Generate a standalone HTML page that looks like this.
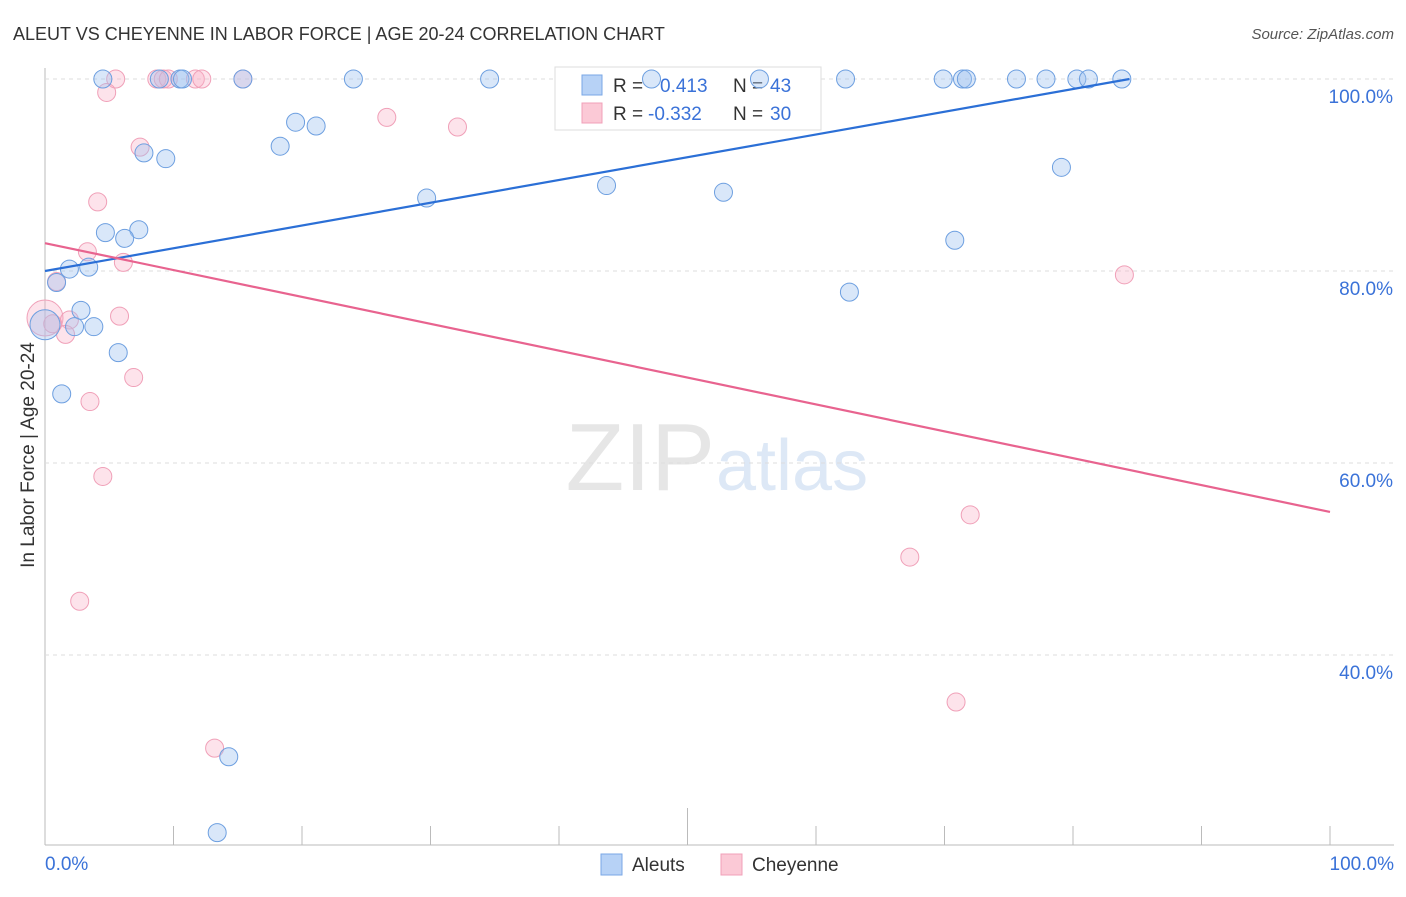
<!DOCTYPE html>
<html><head><meta charset="utf-8"><style>
body{margin:0;background:#fff;font-family:"Liberation Sans",sans-serif}
svg text{font-family:"Liberation Sans",sans-serif}
</style></head><body>
<svg id="c" width="1406" height="892">
<text x="13" y="40" font-size="18" fill="#333">ALEUT VS CHEYENNE IN LABOR FORCE | AGE 20-24 CORRELATION CHART</text>
<text x="1394" y="39" font-size="15" fill="#555" font-style="italic" text-anchor="end">Source: ZipAtlas.com</text>
<text x="715" y="490" font-size="96" fill="#e6e6e6" text-anchor="end" font-family="Liberation Serif">ZIP</text>
<text x="716" y="490" font-size="72" fill="#dde8f6">atlas</text>
<text transform="translate(34,455) rotate(-90)" font-size="19" fill="#333" text-anchor="middle">In Labor Force | Age 20-24</text>
<g id="grid"></g>
<g>
<rect x="555" y="67" width="266" height="63" fill="#fff" stroke="#ddd"/>
<rect x="582" y="75" width="20" height="20" fill="#b7d2f6" stroke="#7aa7e6"/>
<text x="613" y="92" font-size="19" fill="#333">R = </text><text x="660" y="92" font-size="19" fill="#3a72d8">0.413</text>
<text x="733" y="92" font-size="19" fill="#333">N = </text><text x="770" y="92" font-size="19" fill="#3a72d8">43</text>
<rect x="582" y="103" width="20" height="20" fill="#fbc9d6" stroke="#f0a0b8"/>
<text x="613" y="120" font-size="19" fill="#333">R = </text><text x="648" y="120" font-size="19" fill="#3a72d8">-0.332</text>
<text x="733" y="120" font-size="19" fill="#333">N = </text><text x="770" y="120" font-size="19" fill="#3a72d8">30</text>
</g>
<g id="pts"></g><g id="lines"></g>
<g>
<rect x="601" y="854" width="21" height="21" fill="#b7d2f6" stroke="#7aa7e6"/>
<text x="632" y="871" font-size="19" fill="#333">Aleuts</text>
<rect x="721" y="854" width="21" height="21" fill="#fbc9d6" stroke="#f0a0b8"/>
<text x="752" y="871" font-size="19" fill="#333">Cheyenne</text>
</g>
</svg>
<script>
const aleutX=[4.5,8.9,10.5,10.7,15.4,24.0,34.6,47.2,55.6,62.3,69.9,71.4,71.7,75.6,77.9,80.3,81.2,83.8,19.5,21.1,18.3,7.7,9.4,29.7,43.7,52.8,79.1,70.8,7.3,4.7,6.2,1.9,3.4,0.9,2.8,0,2.3,3.8,5.7,1.3,62.6,14.3,13.4];
const aleutY=[100,100,100,100,100,100,100,100,100,100,100,100,100,100,100,100,100,100,95.5,95.1,93.0,92.3,91.7,87.6,88.9,88.2,90.8,83.2,84.3,84.0,83.4,80.2,80.4,78.8,75.9,74.4,74.2,74.2,71.5,67.2,77.8,29.4,21.5];
const cheyX=[5.5,8.7,9.2,9.6,11.7,12.2,15.4,4.8,26.6,32.1,7.4,4.1,3.3,6.1,0.9,0,1.9,1.6,5.8,6.9,3.5,4.5,2.7,13.2,67.3,72.0,70.9,84.0,0.6];
const cheyY=[100,100,100,100,100,100,100,98.6,96.0,95.0,92.9,87.2,82.0,80.9,78.9,75.1,74.9,73.4,75.3,68.9,66.4,58.6,45.6,30.3,50.2,54.6,35.1,79.6,74.5];
const aleutBig=[35];const cheyBig=[15];
const aleutTrend=[[0,80.0],[84.4,100]];
const cheyTrend=[[0,82.9],[100,54.9]];
const yTicks=[100,80,60,40];
const NS='http://www.w3.org/2000/svg';
const sx=v=>45+v*12.85, sy=v=>79+(100-v)*9.6;
function mk(tag,attrs,parent){const e=document.createElementNS(NS,tag);for(const k in attrs)e.setAttribute(k,attrs[k]);parent.appendChild(e);return e;}
const grid=document.getElementById('grid');
const ax=mk('line',{x1:45,y1:68,x2:45,y2:845,stroke:'#bbb'},grid);


const xax=mk('line',{x1:45,y1:845,x2:1394,y2:845,stroke:'#bbb'},grid);


yTicks.forEach(t=>{const l=mk('line',{x1:45,y1:sy(t),x2:1394,y2:sy(t),stroke:'#ddd','stroke-dasharray':'4,4'},grid);


const tx=mk('text',{x:1393,y:sy(t)+24,'font-size':19,fill:'#3a72d8','text-anchor':'end'},grid);tx.textContent=t.toFixed(1)+'%';

});
for(let i=0;i<=10;i++){const l=mk('line',{x1:sx(i*10),y1:i==5?808:826,x2:sx(i*10),y2:845,stroke:'#bbb'},grid);

}
[[0,'0.0%','start',45],[100,'100.0%','end',1394]].forEach(a=>{const t=mk('text',{x:a[3],y:870,'font-size':19,fill:'#3a72d8','text-anchor':a[2]},grid);t.textContent=a[1];

});
const pts=document.getElementById('pts');
cheyX.forEach((x,i)=>{const c=mk('circle',{cx:sx(x),cy:sy(cheyY[i]),r:cheyBig.includes(i)?18:9,fill:'rgba(248,175,198,0.35)',stroke:'#f0a0b8','stroke-width':1},pts);

});
aleutX.forEach((x,i)=>{const c=mk('circle',{cx:sx(x),cy:sy(aleutY[i]),r:aleutBig.includes(i)?15:9,fill:'rgba(160,195,240,0.4)',stroke:'#6d9fe0','stroke-width':1},pts);

});
const lines=document.getElementById('lines');
const l1=mk('line',{x1:sx(aleutTrend[0][0]),y1:sy(aleutTrend[0][1]),x2:sx(aleutTrend[1][0]),y2:sy(aleutTrend[1][1]),stroke:'#2b6fd6','stroke-width':2.2},lines);


const l2=mk('line',{x1:sx(cheyTrend[0][0]),y1:sy(cheyTrend[0][1]),x2:sx(cheyTrend[1][0]),y2:sy(cheyTrend[1][1]),stroke:'#e8638f','stroke-width':2.2},lines);


</script>
</body></html>
